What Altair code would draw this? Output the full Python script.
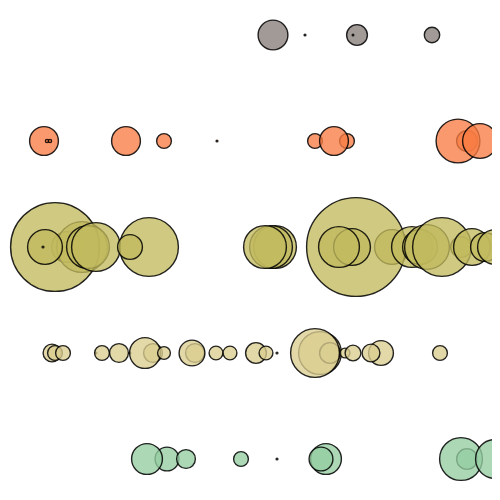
import altair as alt
import pandas as pd

groups = ["Gray", "Orange", "Olive", "Tan", "Green"]
colors = ["#887e79", "#f97c44", "#c1ba5d", "#dacd8f", "#95cda1"]

# values: position along x and bubble radius, in draw order
gray_x = [273, 305, 357, 353, 432]
gray_r = [15.5, 1.5, 11, 1.3, 8.3]

orange_x = [44, 47, 50, 126, 164, 217, 315, 347, 334, 467, 458, 480]
orange_r = [15, 2.2, 2.2, 15, 8, 1.5, 8, 8, 15, 11, 22.5, 18]

olive_x = [67, 82, 55, 45, 43, 88, 96, 149, 130,
           275, 271, 265,
           392, 356, 352, 339,
           412, 420, 427, 461, 442, 472, 485, 495]
olive_r = [16, 26, 45, 18, 1.5, 22, 25, 30, 13,
           22, 22, 22,
           18, 50, 19, 21,
           21, 18, 23, 11, 30, 19, 15, 18]

tan_x = [52, 55, 63, 96, 102, 119, 130, 153, 145, 164,
         195, 192, 216, 230, 256, 266, 277,
         320, 330, 315, 345, 353, 381, 371, 440]
tan_r = [9.5, 8, 8, 1.5, 8, 10, 1.5, 10, 16, 7,
         10, 13.5, 7.5, 7.5, 11, 7.5, 1.5,
         22, 11, 25, 5.5, 8.5, 13, 9.5, 8]

green_x = [167, 147, 186, 241, 277, 326, 321, 467, 461, 495]
green_r = [12.5, 16, 10, 8, 1.5, 16, 12.5, 11, 22, 20]

series = [
    ("Gray", gray_x, gray_r),
    ("Orange", orange_x, orange_r),
    ("Olive", olive_x, olive_r),
    ("Tan", tan_x, tan_r),
    ("Green", green_x, green_r),
]

rows = []
for g, xs, rs in series:
    for x, r in zip(xs, rs):
        rows.append({"group": g, "x": x, "r": r, "order": len(rows)})
df = pd.DataFrame(rows)
df["size"] = (2 * (df["r"] - 0.6).clip(lower=0.8)) ** 2

chart = alt.Chart(df).mark_circle(
    stroke="black", strokeWidth=1.4, opacity=1, fillOpacity=0.78, strokeOpacity=0.85
).encode(
    x=alt.X("x:Q", scale=alt.Scale(domain=[8, 492], nice=False, zero=False), axis=None),
    y=alt.Y("group:N", sort=groups, scale=alt.Scale(type="point", padding=0.2547), axis=None),
    color=alt.Color("group:N", scale=alt.Scale(domain=groups, range=colors), legend=None),
    size=alt.Size("size:Q", scale=None, legend=None),
    order=alt.Order("order:Q"),
).properties(
    width=484, height=478, padding=0, autosize="none"
).configure_view(stroke=None)

chart.save("out.html", embed_options={"renderer": "svg", "actions": False})
